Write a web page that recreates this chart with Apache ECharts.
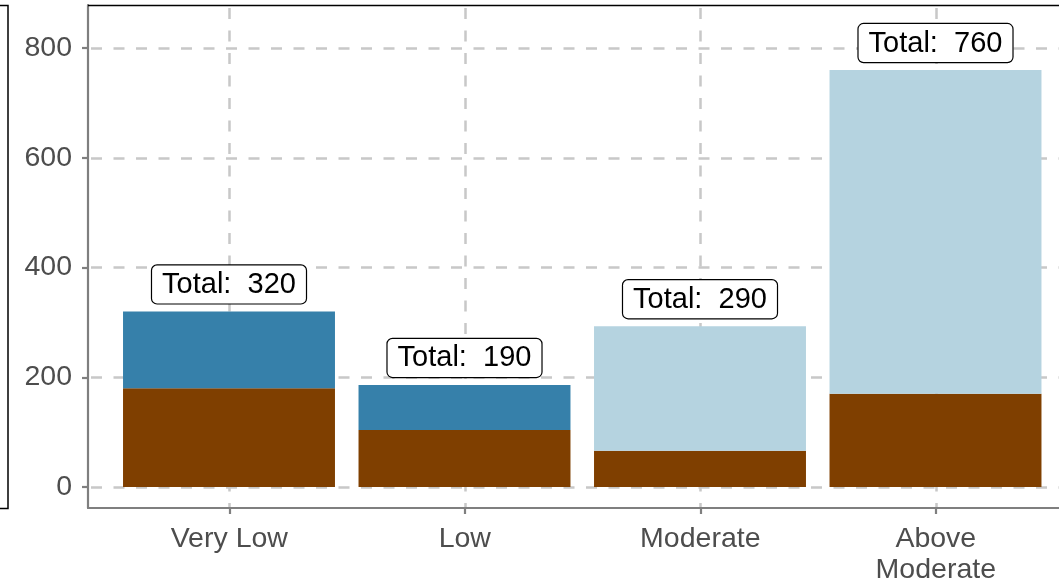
<!DOCTYPE html>
<html>
<head>
<meta charset="utf-8">
<script src="https://cdn.jsdelivr.net/npm/echarts@6/dist/echarts.min.js"></script>
<style>
html,body{margin:0;padding:0;background:#fff;}
#chart{width:1059px;height:586px;}
</style>
</head>
<body>
<div id="chart"></div>
<script>
// Data
const categories = ['Very Low', 'Low', 'Moderate', 'Above\nModerate'];
const xPositions = [1, 2, 3, 4];
const brownValues = [180, 104, 66, 170];
const darkBlueValues = [140, 82, 0, 0];
const lightBlueValues = [0, 0, 227, 590];
const totalLabels = [320, 190, 290, 760];
const yTicks = [0, 200, 400, 600, 800];

const FONT = 'Liberation Sans, Arial, sans-serif';
const chart = echarts.init(document.getElementById('chart'), null, {renderer: 'canvas'});

const Y_MIN = -38.3, Y_MAX = 878.5;
const axisGray = '#7f7f7f';
const gridStyle = {color: '#c8c8c8', width: 2.5, type: [11, 11.5], dashOffset: -3};
// visible part of the x range (the panel runs past the right edge of the image)
const X_MIN = 0.4, X_MAX = 0.4 + 971 / 235.5;

const option = {
  backgroundColor: '#ffffff',
  animation: false,
  grid: [
    // bar grid: category bands
    {left: 111.25, top: 5, width: 942, height: 503, containLabel: false},
    // axis/guide grid
    {left: 88, top: 5, right: 0, height: 503, containLabel: false}
  ],
  xAxis: [
    {gridIndex: 0, type: 'category', data: categories, show: false},
    {
      gridIndex: 1, type: 'value', min: X_MIN, max: X_MAX,
      axisLine: {show: true, onZero: false, lineStyle: {color: axisGray, width: 2.2}},
      axisTick: {show: true, length: 6, customValues: xPositions, lineStyle: {color: axisGray, width: 2.2}},
      axisLabel: {
        customValues: xPositions, margin: 16, color: '#4d4d4d', fontSize: 28.5, fontFamily: FONT, lineHeight: 31,
        formatter: v => categories[Math.round(v) - 1] || ''
      },
      splitLine: {show: true, lineStyle: gridStyle}
    }
  ],
  yAxis: [
    {gridIndex: 0, type: 'value', min: Y_MIN, max: Y_MAX, show: false, splitLine: {show: false}},
    {
      gridIndex: 1, type: 'value', min: Y_MIN, max: Y_MAX,
      axisLine: {show: true, onZero: false, lineStyle: {color: axisGray, width: 2.2}},
      axisTick: {show: true, length: 6, customValues: yTicks, lineStyle: {color: axisGray, width: 2.2}},
      axisLabel: {customValues: yTicks, margin: 16, color: '#4d4d4d', fontSize: 28.5, fontFamily: FONT},
      splitLine: {show: true, lineStyle: gridStyle}
    }
  ],
  series: [
    {type: 'bar', xAxisIndex: 0, yAxisIndex: 0, stack: 'a', barWidth: '90%', data: brownValues, itemStyle: {color: '#7f3f00'}, z: 3},
    {type: 'bar', xAxisIndex: 0, yAxisIndex: 0, stack: 'a', barWidth: '90%', data: darkBlueValues, itemStyle: {color: '#3680aa'}, z: 3},
    {type: 'bar', xAxisIndex: 0, yAxisIndex: 0, stack: 'a', barWidth: '90%', data: lightBlueValues, itemStyle: {color: '#b5d3e0'}, z: 3},
    {type: 'bar', xAxisIndex: 0, yAxisIndex: 0, stack: 'a', barWidth: '90%', data: [0, 0, 0, 0], itemStyle: {color: 'transparent'}, z: 5,
      label: {
        show: true, position: 'top', distance: 8,
        formatter: p => 'Total:  ' + totalLabels[p.dataIndex],
        color: '#000', fontSize: 29, fontFamily: FONT,
        backgroundColor: '#fff', borderColor: '#000', borderWidth: 1.2, borderRadius: 5,
        padding: [5, 10, 4, 10]
      }
    }
  ],
  graphic: [
    {type: 'line', shape: {x1: 88, y1: 5.5, x2: 1059, y2: 5.5}, style: {stroke: '#000', lineWidth: 1.5}, z: 10},
    {type: 'rect', shape: {x: -20, y: 5.5, width: 28, height: 503}, style: {fill: 'none', stroke: '#000', lineWidth: 1.5}, z: 10}
  ]
};
chart.setOption(option);
</script>
</body>
</html>
